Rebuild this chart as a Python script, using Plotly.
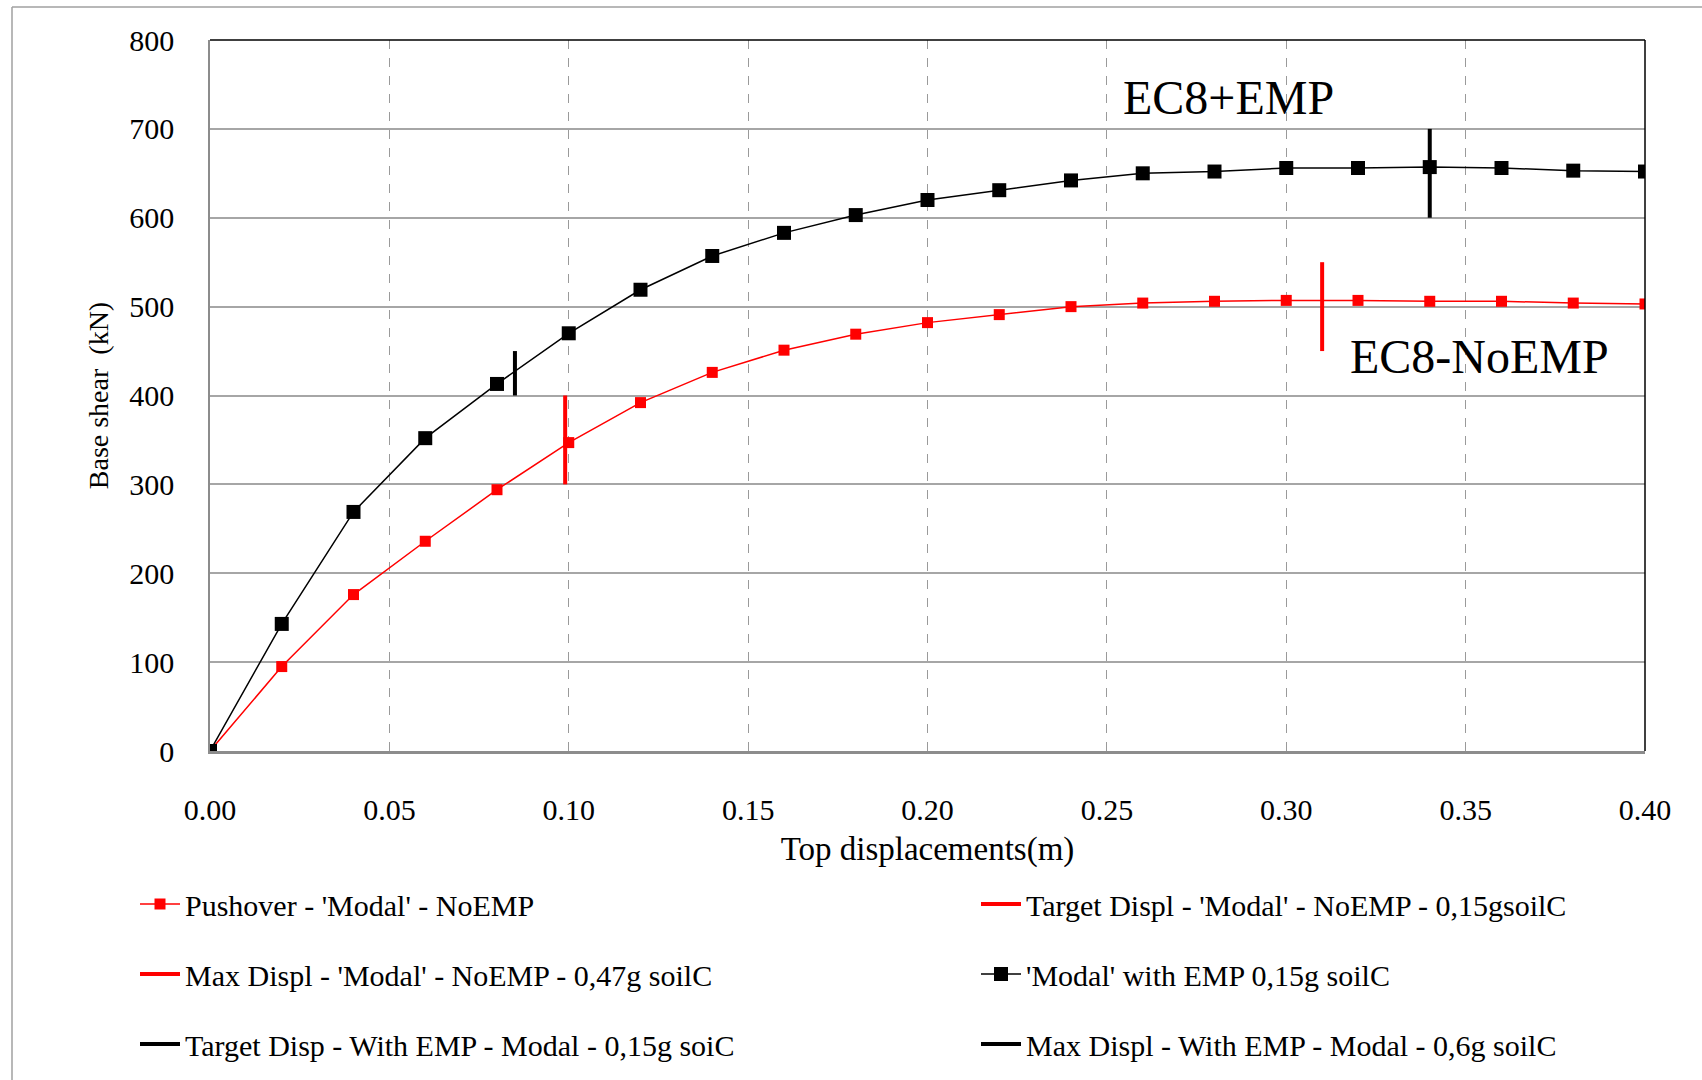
import plotly.graph_objects as go

# ---- data ----
disp = [0.00, 0.02, 0.04, 0.06, 0.08, 0.10, 0.12, 0.14, 0.16, 0.18, 0.20,
        0.22, 0.24, 0.26, 0.28, 0.30, 0.32, 0.34, 0.36, 0.38, 0.40]
shear_noemp = [0, 95, 176, 236, 294, 347, 392, 426, 451, 469, 482,
               491, 500, 504, 506, 507, 507, 506, 506, 504, 503]
shear_emp = [0, 143, 269, 352, 413, 470, 519, 557, 583, 603, 620,
             631, 642, 650, 652, 656, 656, 657, 656, 653, 652]

target_noemp_x = [0.099, 0.099]
target_noemp_y = [300, 400]
max_noemp_x = [0.31, 0.31]
max_noemp_y = [450, 550]
target_emp_x = [0.085, 0.085]
target_emp_y = [400, 450]
max_emp_x = [0.34, 0.34]
max_emp_y = [600, 700]

x_ticks = [0.00, 0.05, 0.10, 0.15, 0.20, 0.25, 0.30, 0.35, 0.40]
y_ticks = [0, 100, 200, 300, 400, 500, 600, 700, 800]

FONT = "Liberation Serif"
RED = "#FF0000"
BLACK = "#000000"

fig = go.Figure()

fig.add_trace(go.Scatter(x=disp, y=shear_noemp, mode="lines+markers",
                         name="Pushover - 'Modal' - NoEMP",
                         line=dict(color=RED, width=1.5),
                         marker=dict(symbol="square", size=11, color=RED),
                         legend="legend"))
fig.add_trace(go.Scatter(x=target_noemp_x, y=target_noemp_y, mode="lines",
                         name="Target Displ - 'Modal' - NoEMP - 0,15gsoilC",
                         line=dict(color=RED, width=4), legend="legend2"))
fig.add_trace(go.Scatter(x=max_noemp_x, y=max_noemp_y, mode="lines",
                         name="Max Displ - 'Modal' - NoEMP - 0,47g soilC",
                         line=dict(color=RED, width=4), legend="legend3"))
fig.add_trace(go.Scatter(x=disp, y=shear_emp, mode="lines+markers",
                         name="'Modal' with EMP 0,15g soilC",
                         line=dict(color=BLACK, width=1.5),
                         marker=dict(symbol="square", size=14, color=BLACK),
                         legend="legend4"))
fig.add_trace(go.Scatter(x=target_emp_x, y=target_emp_y, mode="lines",
                         name="Target Disp - With EMP - Modal - 0,15g soiC",
                         line=dict(color=BLACK, width=4), legend="legend5"))
fig.add_trace(go.Scatter(x=max_emp_x, y=max_emp_y, mode="lines",
                         name="Max Displ - With EMP - Modal - 0,6g soilC",
                         line=dict(color=BLACK, width=4), legend="legend6"))

L, R, T, B = 210, 57, 40, 329
W, H = 1702, 1080
pw = W - L - R
ph = H - T - B


def py(pix):
    return (H - B - pix) / ph


def px(pix):
    return (pix - L) / pw


def leg(xpix, ypix):
    return dict(orientation="v", xanchor="left", yanchor="middle",
                font=dict(family=FONT, size=30, color="black"),
                bgcolor="rgba(0,0,0,0)", itemwidth=40,
                x=px(xpix), y=py(ypix))


col1, col2 = 135, 976
row1, row2, row3 = 904, 974, 1044

fig.update_layout(
    width=W, height=H,
    margin=dict(l=L, r=R, t=T, b=B, autoexpand=False),
    paper_bgcolor="white", plot_bgcolor="white",
    font=dict(family=FONT, size=30, color="black"),
    showlegend=True,
    legend=leg(col1, row1),
    legend2=leg(col2, row1),
    legend3=leg(col1, row2),
    legend4=leg(col2, row2),
    legend5=leg(col1, row3),
    legend6=leg(col2, row3),
    xaxis=dict(range=[0, 0.4], tickvals=x_ticks, tickformat=".2f",
               showgrid=True, gridcolor="#9a9a9a", gridwidth=1, griddash="dash",
               showline=True, linecolor="#8c8c8c", linewidth=2.5,
               zeroline=False, ticks="", ticklabelstandoff=30,
               tickfont=dict(family=FONT, size=30),
               title=dict(text="Top displacements(m)", font=dict(family=FONT, size=33),
                          standoff=13)),
    yaxis=dict(range=[0, 800], tickvals=y_ticks,
               showgrid=True, gridcolor="#a6a6a6", gridwidth=2,
               showline=True, linecolor="#8c8c8c", linewidth=1.5,
               zeroline=False, ticks="", ticklabelstandoff=28,
               tickfont=dict(family=FONT, size=30),
               title=dict(text="Base shear  (kN)", font=dict(family=FONT, size=28),
                          standoff=12)),
    annotations=[
        dict(x=0.2538, y=735, xref="x", yref="y", text="EC8+EMP", showarrow=False,
             xanchor="left", yanchor="middle", font=dict(family=FONT, size=48, color="black")),
        dict(x=0.3171, y=444, xref="x", yref="y", text="EC8-NoEMP", showarrow=False,
             xanchor="left", yanchor="middle", font=dict(family=FONT, size=48, color="black")),
    ],
    shapes=[
        dict(type="line", xref="paper", yref="paper", x0=0, x1=1, y0=1, y1=1,
             line=dict(color="black", width=1.5)),
        dict(type="line", xref="paper", yref="paper", x0=1, x1=1, y0=0, y1=1,
             line=dict(color="black", width=1.5)),
        dict(type="line", xref="paper", yref="paper", x0=px(12), x1=px(12), y0=py(7), y1=py(1080),
             line=dict(color="#a0a0a0", width=1.5)),
        dict(type="line", xref="paper", yref="paper", x0=px(12), x1=px(1702), y0=py(7), y1=py(7),
             line=dict(color="#a0a0a0", width=1.5)),
    ],
)

fig.write_html("out.html")
